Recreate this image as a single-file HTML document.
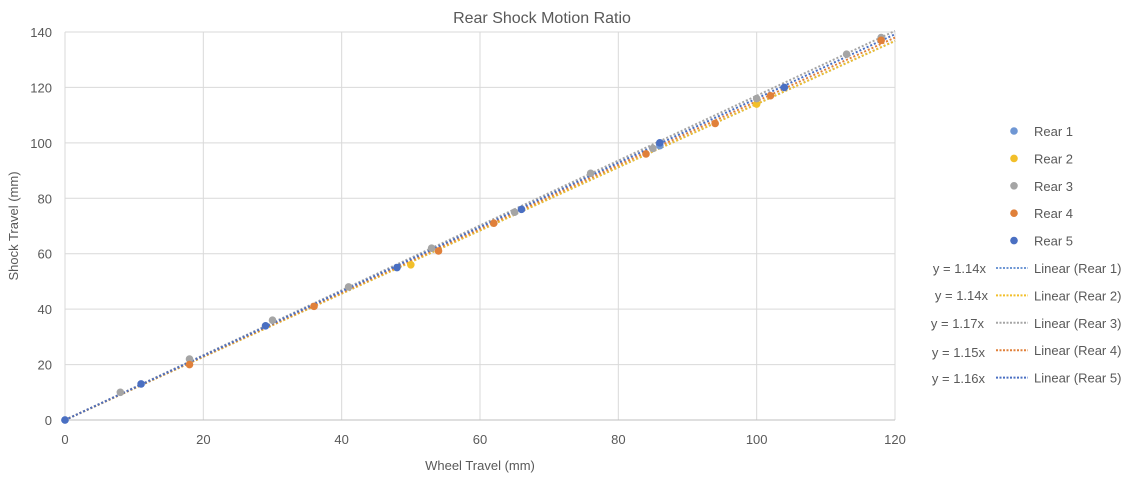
<!DOCTYPE html>
<html><head><meta charset="utf-8"><style>
body{margin:0;background:#fff;font-family:"Liberation Sans",sans-serif}
svg text{font-family:"Liberation Sans",sans-serif;fill:#595959}
</style></head><body>
<svg id="chart" width="1139" height="478" xmlns="http://www.w3.org/2000/svg">
<text x="542" y="23" font-size="16" text-anchor="middle">Rear Shock Motion Ratio</text>
<text x="480" y="470" font-size="13" text-anchor="middle">Wheel Travel (mm)</text>
<text x="18" y="226" font-size="13" text-anchor="middle" transform="rotate(-90 18 226)">Shock Travel (mm)</text>
<g id="grid"></g><g id="trends"></g><g id="points"></g><g id="legend"></g>
</svg>
<script>
const xTicks=[0,20,40,60,80,100,120];
const yTicks=[0,20,40,60,80,100,120,140];
const seriesNames=["Rear 1","Rear 2","Rear 3","Rear 4","Rear 5"];
const colors=["#6f97d4","#f2bf2a","#a5a5a5","#e0803a","#4a6fc2"];
const slopes=[1.14,1.14,1.17,1.15,1.16];
const eqLabels=["y = 1.14x","y = 1.14x","y = 1.17x","y = 1.15x","y = 1.16x"];
const rear1X=[0,86];const rear1Y=[0,99];
const rear2X=[50,100];const rear2Y=[56,114];
const rear3X=[8,18,30,41,53,65,76,85,100,113,118];const rear3Y=[10,22,36,48,62,75,89,98,116,132,138];
const rear4X=[18,36,54,62,84,94,102,118];const rear4Y=[20,41,61,71,96,107,117,137];
const rear5X=[0,11,29,48,66,86,104];const rear5Y=[0,13,34,55,76,100,120];
const allX=[rear1X,rear2X,rear3X,rear4X,rear5X],allY=[rear1Y,rear2Y,rear3Y,rear4Y,rear5Y];
const X0=65,X1=895,Y0=420,Y1=32;
const sx=v=>X0+(v-0)/120*(X1-X0);
const sy=v=>Y0-(v-0)/140*(Y0-Y1);
const NS="http://www.w3.org/2000/svg";
function mk(tag,attrs,parent,txt){const e=document.createElementNS(NS,tag);for(const k in attrs)e.setAttribute(k,attrs[k]);if(txt!==undefined)e.textContent=txt;parent.appendChild(e);return e;}
const grid=document.getElementById('grid');
xTicks.forEach(t=>{
 const l=mk('line',{x1:sx(t),x2:sx(t),y1:Y1,y2:Y0,stroke:'#d9d9d9'},grid);
 
 
 const tx=mk('text',{x:sx(t),y:Y0+24,'font-size':13,'text-anchor':'middle'},grid,t);
 
 
});
yTicks.forEach(t=>{
 const l=mk('line',{x1:X0,x2:X1,y1:sy(t),y2:sy(t),stroke:t===0?'#bfbfbf':'#d9d9d9'},grid);
 
 
 const tx=mk('text',{x:X0-13,y:sy(t)+5,'font-size':13,'text-anchor':'end'},grid,t);
 
 
});
const trends=document.getElementById('trends'),pts=document.getElementById('points'),leg=document.getElementById('legend');
slopes.forEach((s,i)=>{
 const l=mk('line',{x1:sx(0),y1:sy(0),x2:sx(120),y2:sy(120*s),stroke:colors[i],'stroke-width':2,'stroke-dasharray':'2 2'},trends);
 
 
});
allX.forEach((xs,i)=>{xs.forEach((x,j)=>{
 const c=mk('circle',{cx:sx(x),cy:sy(allY[i][j]),r:3.8,fill:colors[i]},pts);
 
 
});});
const eqX=[986,988,984,985,985],eqY=[273,300,328,357,383];
seriesNames.forEach((n,i)=>{
 const y=131+i*27.4;
 const c=mk('circle',{cx:1014,cy:y,r:3.8,fill:colors[i]},leg);
 
 
 const t=mk('text',{x:1034,y:y+5,'font-size':13},leg,n);
 
 
 const y2=268+i*27.4;
 const l=mk('line',{x1:996,x2:1028,y1:y2,y2:y2,stroke:colors[i],'stroke-width':2,'stroke-dasharray':'2 1.5'},leg);
 
 
 const t2=mk('text',{x:1034,y:y2+5,'font-size':13},leg,'Linear ('+n+')');
 
 
 const e=mk('text',{x:eqX[i],y:eqY[i],'font-size':13,'text-anchor':'end'},leg,eqLabels[i]);
 
 
});
</script>
</body></html>
